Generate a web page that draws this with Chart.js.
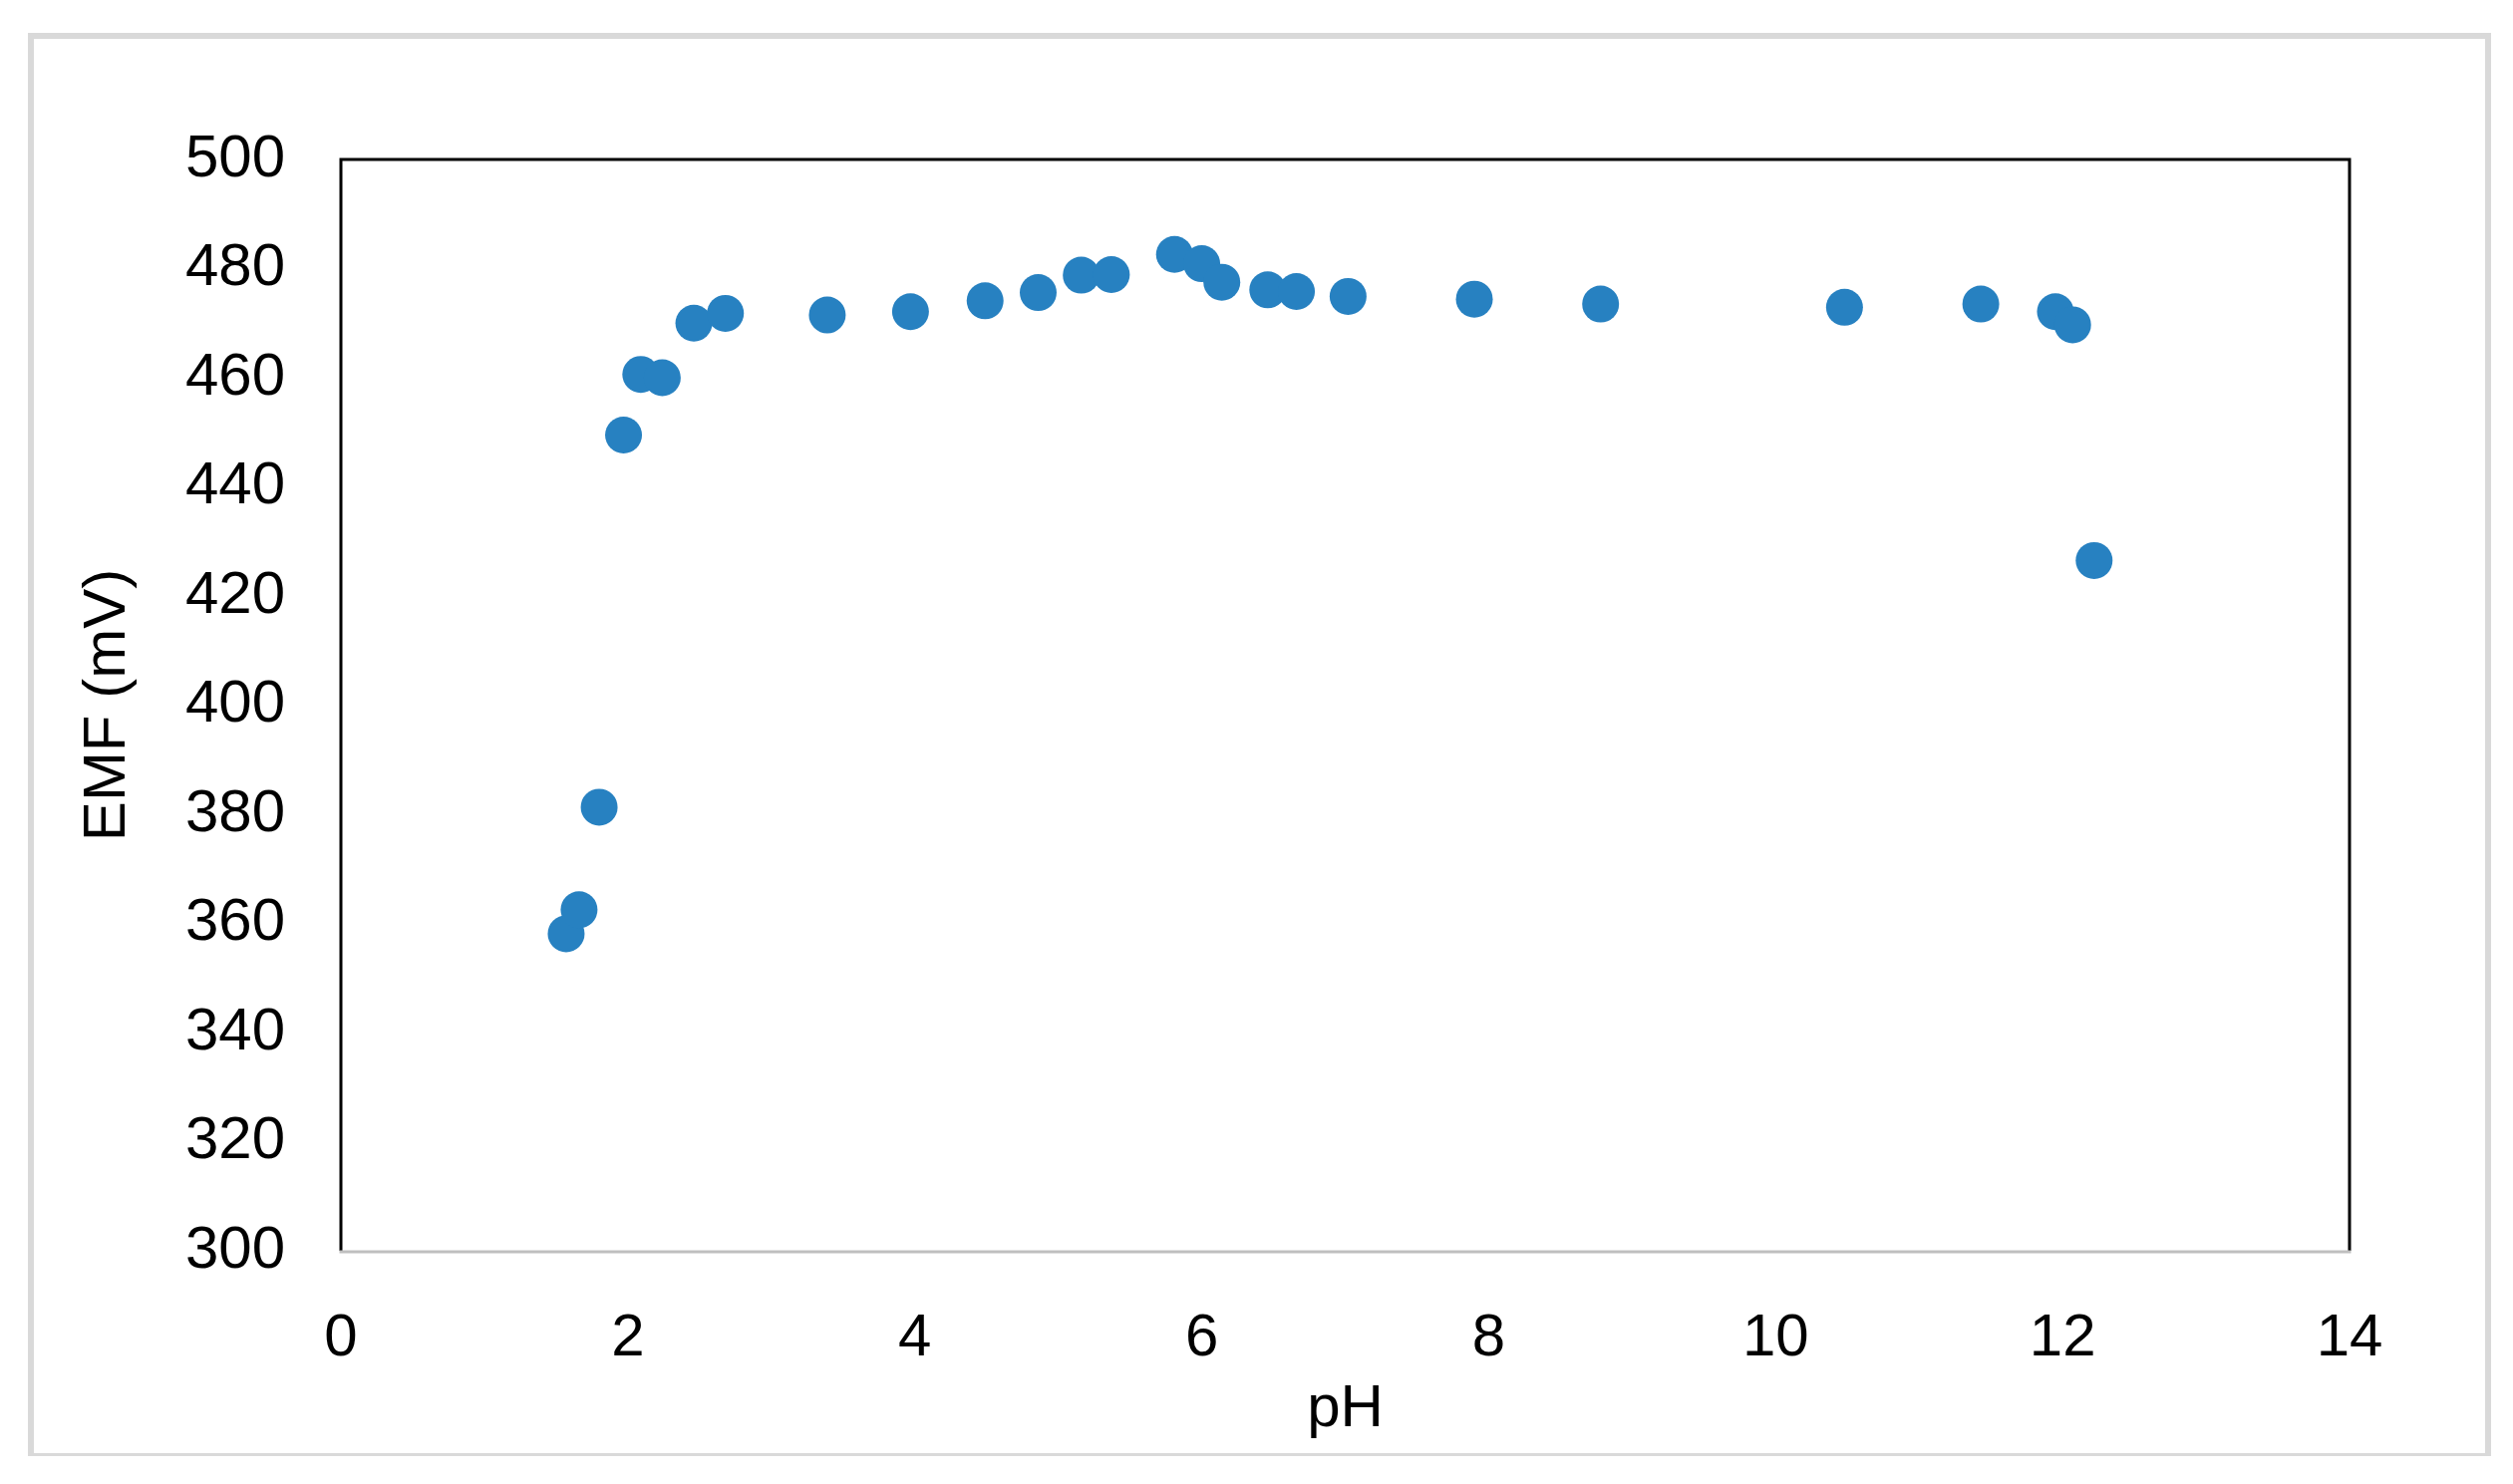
<!DOCTYPE html>
<html>
<head>
<meta charset="utf-8">
<script src="https://cdn.jsdelivr.net/npm/chart.js@4/dist/chart.umd.min.js"></script>
<style>
  html, body { margin: 0; padding: 0; background: #ffffff; }
  #wrap { position: absolute; left: 0; top: 0; width: 2521px; height: 1489px; }
</style>
</head>
<body>
<div id="wrap"><canvas id="c" width="2521" height="1489"></canvas></div>
<script>
// Data
const phValues = [1.57, 1.66, 1.80, 1.97, 2.09, 2.24, 2.46, 2.68, 3.39, 3.97, 4.49, 4.86, 5.16, 5.37, 5.81, 6.00, 6.14, 6.46, 6.66, 7.02, 7.90, 8.78, 10.48, 11.43, 11.95, 12.07, 12.22];
const emfValues = [358.1, 362.5, 381.3, 449.5, 460.6, 460.0, 470.0, 471.8, 471.5, 472.1, 474.1, 475.6, 478.8, 478.9, 482.6, 480.9, 477.5, 476.1, 475.8, 474.9, 474.4, 473.5, 472.9, 473.5, 472.1, 469.7, 426.5];
const xTitle = 'pH';
const yTitle = 'EMF (mV)';
const xRange = { min: 0, max: 14, step: 2 };
const yRange = { min: 300, max: 500, step: 20 };

const points = phValues.map((x, i) => ({ x: x, y: emfValues[i] }));

const FONT = "'Liberation Sans', Arial, sans-serif";

const framePlugin = {
  id: 'frames',
  beforeDraw(chart) {
    const ctx = chart.ctx;
    ctx.save();
    ctx.fillStyle = '#ffffff';
    ctx.fillRect(0, 0, chart.width, chart.height);
    // outer light gray frame
    ctx.fillStyle = '#d9d9d9';
    ctx.fillRect(28, 33, 2499 - 28, 6);      // top
    ctx.fillRect(28, 33, 6, 1461 - 33);      // left
    ctx.fillRect(2493, 33, 6, 1461 - 33);    // right
    ctx.fillRect(28, 1458, 2499 - 28, 3);    // bottom
    ctx.restore();
  },
  afterDraw(chart) {
    const a = chart.chartArea;
    const ctx = chart.ctx;
    ctx.save();
    ctx.lineWidth = 3;
    ctx.strokeStyle = '#000000';
    ctx.beginPath();
    ctx.moveTo(a.left, a.bottom);
    ctx.lineTo(a.left, a.top);
    ctx.lineTo(a.right, a.top);
    ctx.lineTo(a.right, a.bottom);
    ctx.stroke();
    ctx.strokeStyle = '#bfbfbf';
    ctx.beginPath();
    ctx.moveTo(a.left - 1.5, a.bottom + 1);
    ctx.lineTo(a.right + 1.5, a.bottom + 1);
    ctx.stroke();
    ctx.restore();
  }
};

new Chart(document.getElementById('c'), {
  type: 'scatter',
  data: {
    datasets: [{
      data: points,
      backgroundColor: '#2781c1',
      borderColor: '#2781c1',
      borderWidth: 0,
      pointRadius: 18.5,
      pointHoverRadius: 18.5
    }]
  },
  options: {
    responsive: false,
    animation: false,
    devicePixelRatio: 1,
    layout: { padding: { left: 0, top: 160, right: 164, bottom: 0 } },
    plugins: {
      legend: { display: false },
      tooltip: { enabled: false }
    },
    scales: {
      x: {
        type: 'linear',
        min: xRange.min,
        max: xRange.max,
        grid: { display: false, drawTicks: false },
        border: { display: false },
        ticks: {
          stepSize: xRange.step,
          padding: 52,
          color: '#000000',
          font: { family: FONT, size: 60 },
          maxRotation: 0
        },
        title: {
          display: true,
          text: xTitle,
          color: '#000000',
          font: { family: FONT, size: 60 },
          padding: { top: 0, bottom: 39 }
        },
        afterFit(scale) { scale.height = 1489 - 1255; }
      },
      y: {
        type: 'linear',
        min: yRange.min,
        max: yRange.max,
        grid: { display: false, drawTicks: false },
        border: { display: false },
        ticks: {
          stepSize: yRange.step,
          padding: 56,
          color: '#000000',
          font: { family: FONT, size: 60 }
        },
        title: {
          display: true,
          text: yTitle,
          color: '#000000',
          font: { family: FONT, size: 60 },
          padding: { top: 72, bottom: 0 }
        },
        afterFit(scale) { scale.width = 342; }
      }
    }
  },
  plugins: [framePlugin]
});
</script>
</body>
</html>
